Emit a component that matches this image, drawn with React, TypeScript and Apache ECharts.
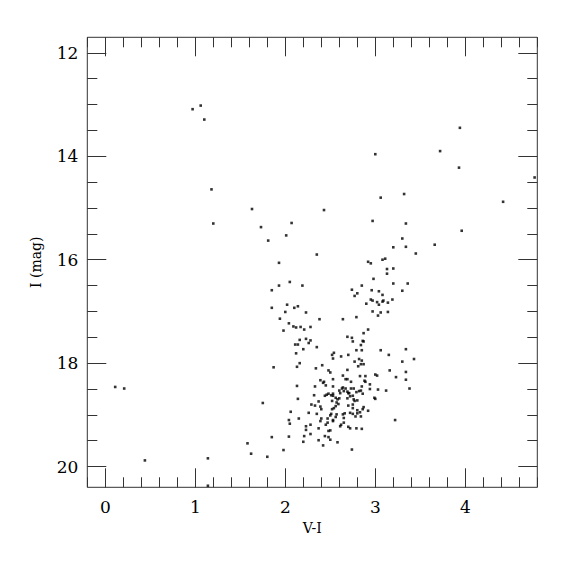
import React, { useEffect, useRef } from 'react';
import * as echarts from 'echarts';

// V-I colour vs I magnitude
const brightStars: [number, number][] = [
  [0.97, 13.09], [1.06, 13.02], [1.10, 13.29], [1.18, 14.64], [1.63, 15.02], [1.20, 15.30],
  [1.73, 15.37], [1.81, 15.63], [1.93, 16.06], [3.94, 13.45], [3.72, 13.90], [3.00, 13.96],
  [3.93, 14.22], [4.77, 14.41], [3.32, 14.73], [3.06, 14.80], [4.42, 14.88], [2.43, 15.04],
  [2.07, 15.29], [2.97, 15.25], [3.34, 15.30], [2.01, 15.53], [3.96, 15.44], [3.30, 15.59],
  [3.20, 15.76], [3.34, 15.75], [3.66, 15.71], [2.35, 15.90], [3.45, 15.88], [2.92, 16.04],
  [2.95, 16.07], [3.08, 16.00], [3.11, 15.98], [3.13, 16.18], [3.20, 16.17],
];

const upperBranch: [number, number][] = [
  [3.13, 16.27], [2.98, 16.37], [2.05, 16.43], [2.19, 16.50], [1.93, 16.50], [1.85, 16.59],
  [2.85, 16.50], [3.20, 16.46], [3.36, 16.46], [2.74, 16.58], [2.96, 16.59], [3.04, 16.61],
  [3.30, 16.60], [2.80, 16.65], [2.77, 16.70], [3.08, 16.68], [2.95, 16.77], [2.97, 16.79],
  [3.02, 16.82], [3.04, 16.87], [2.90, 16.85], [3.08, 16.81], [3.09, 16.79], [3.14, 16.83],
  [3.19, 16.77], [2.02, 16.87], [1.85, 16.93], [2.14, 16.90], [2.10, 16.93], [2.00, 17.01],
  [2.23, 17.02], [2.97, 17.00], [3.06, 17.02], [3.14, 17.01], [3.03, 17.08], [2.79, 17.11],
  [1.94, 17.14], [2.38, 17.15], [2.64, 17.15], [2.04, 17.23], [2.09, 17.29], [2.12, 17.31],
  [2.17, 17.30], [2.21, 17.35], [2.28, 17.30], [1.98, 17.37], [2.92, 17.35], [2.87, 17.42],
  [2.69, 17.49], [2.74, 17.51], [2.75, 17.58], [2.86, 17.57], [2.87, 17.58], [2.16, 17.55],
  [2.23, 17.53], [2.28, 17.56], [2.26, 17.61], [2.11, 17.64], [2.14, 17.64], [2.84, 17.65],
  [2.20, 17.73], [2.35, 17.69], [2.79, 17.75], [2.85, 17.75], [3.06, 17.75], [3.34, 17.73],
  [2.12, 17.81], [2.54, 17.80], [2.52, 17.84], [2.70, 17.84], [3.15, 17.84], [2.53, 17.91],
  [2.62, 17.87], [2.82, 17.92], [2.85, 17.95], [2.77, 17.97], [3.43, 17.92], [2.16, 18.00],
  [3.30, 17.97], [2.84, 18.02], [2.87, 18.02], [2.41, 18.04], [1.87, 18.08], [2.13, 18.07],
  [2.34, 18.10], [2.81, 18.06], [2.69, 18.13],
];

const lowerClump: [number, number][] = [
  [2.48, 18.14], [2.50, 18.18], [3.16, 18.14], [3.34, 18.17], [3.00, 18.22], [3.02, 18.24],
  [2.64, 18.24], [2.83, 18.25], [2.89, 18.25], [3.23, 18.27], [2.69, 18.31], [2.67, 18.31],
  [2.53, 18.31], [2.73, 18.36], [2.88, 18.34], [2.89, 18.36], [3.34, 18.32], [2.39, 18.33],
  [2.42, 18.38], [2.43, 18.36], [2.13, 18.44], [2.33, 18.45], [2.45, 18.43], [2.53, 18.45],
  [2.64, 18.47], [2.63, 18.49], [2.67, 18.49], [2.73, 18.49], [2.76, 18.49], [2.85, 18.45],
  [2.94, 18.41], [2.94, 18.50], [3.03, 18.51], [3.12, 18.53], [3.38, 18.49], [2.60, 18.53],
  [2.61, 18.58], [2.65, 18.54], [2.69, 18.55], [2.70, 18.58], [2.71, 18.58], [2.79, 18.56],
  [2.82, 18.54], [2.84, 18.53], [2.86, 18.59], [2.32, 18.62], [2.44, 18.63], [2.46, 18.61],
  [2.48, 18.59], [2.51, 18.62], [2.53, 18.59], [2.53, 18.63], [2.56, 18.67], [2.60, 18.68],
  [2.58, 18.70], [2.69, 18.68], [2.72, 18.64], [2.75, 18.63], [2.76, 18.70], [2.99, 18.67],
  [3.00, 18.69], [2.80, 18.72], [1.75, 18.77], [2.14, 18.69], [2.29, 18.80], [2.33, 18.82],
  [2.37, 18.74], [2.39, 18.84], [2.40, 18.89], [2.52, 18.73], [2.57, 18.76], [2.59, 18.79],
  [2.56, 18.83], [2.54, 18.87], [2.70, 18.82], [2.75, 18.80], [2.77, 18.73], [2.75, 18.87],
  [2.80, 18.91], [2.87, 18.85], [2.86, 18.89], [2.92, 18.92], [2.06, 18.94], [2.26, 18.96],
  [2.35, 18.98], [2.52, 18.89], [2.51, 18.98], [2.50, 19.01], [2.57, 18.99], [2.56, 19.04],
  [2.64, 18.99], [2.66, 18.97], [2.65, 19.06], [2.72, 18.96], [2.75, 18.98], [2.78, 19.03],
  [2.80, 18.97], [2.83, 18.95], [2.84, 19.03], [2.40, 19.07], [2.39, 19.12], [2.47, 19.07],
  [2.47, 19.15], [2.15, 19.07], [2.04, 19.10], [2.05, 19.17], [2.23, 19.22], [2.28, 19.19],
  [2.45, 19.19], [2.53, 19.10], [2.53, 19.12], [2.61, 19.22], [2.62, 19.19], [2.65, 19.15],
  [2.70, 19.23], [2.72, 19.26], [2.79, 19.26], [2.85, 19.27], [3.22, 19.10],
];

const faintStars: [number, number][] = [
  [2.23, 19.29], [2.37, 19.26], [2.48, 19.31], [2.50, 19.30], [2.28, 19.37], [2.21, 19.41],
  [2.44, 19.41], [2.48, 19.43], [2.50, 19.48], [2.37, 19.49], [2.58, 19.53], [2.04, 19.42],
  [1.85, 19.43], [2.20, 19.52], [2.42, 19.59], [1.98, 19.68], [2.74, 19.67], [1.80, 19.81],
  [0.11, 18.46], [0.21, 18.49], [1.58, 19.55], [1.62, 19.75], [1.14, 19.84], [0.44, 19.88],
  [1.14, 20.37],
];

const xRange = [-0.2, 4.8];
const yRange = [11.7, 20.4];
const xLabelRange = [0, 4];
const yLabelRange = [12, 20];

const FONT = 'DejaVu Serif';
const INK = '#333';

export default function App() {
  const ref = useRef<HTMLDivElement>(null);
  useEffect(() => {
    if (!ref.current) return;
    const chart = echarts.init(ref.current, undefined, { renderer: 'svg' });
    const L = 87.3, R = 37.7, T = 37.3, B = 87.7;
    const pxPerX = (575 - L - R) / (xRange[1] - xRange[0]);
    const pxPerY = (575 - T - B) / (yRange[1] - yRange[0]);
    const g2Left = L + (xLabelRange[0] - xRange[0]) * pxPerX;
    const g2Right = R + (xRange[1] - xLabelRange[1]) * pxPerX;
    const g3Top = T + (yLabelRange[0] - yRange[0]) * pxPerY;
    const g3Bottom = B + (yRange[1] - yLabelRange[1]) * pxPerY;
    const minorX = {
      type: 'value', gridIndex: 0, min: xRange[0], max: xRange[1], interval: 0.2,
      axisLine: { show: false }, axisLabel: { show: false }, splitLine: { show: false },
      axisTick: { inside: true, length: 10, lineStyle: { color: INK, width: 1 } },
    };
    const majorX = {
      type: 'value', gridIndex: 1, min: xLabelRange[0], max: xLabelRange[1], interval: 1,
      axisLine: { show: false }, splitLine: { show: false },
      axisTick: { inside: true, length: 19, lineStyle: { color: INK, width: 1 } },
    };
    const majorY = {
      type: 'value', gridIndex: 2, min: yLabelRange[0], max: yLabelRange[1], interval: 2, inverse: true,
      axisLine: { show: false }, splitLine: { show: false },
      axisTick: { inside: true, length: 19, lineStyle: { color: INK, width: 1 } },
      minorTick: { show: true, splitNumber: 4, length: 10, lineStyle: { color: INK, width: 1 } },
      minorSplitLine: { show: false },
    };
    const option: any = {
      animation: false,
      grid: [
        { left: L, right: R, top: T, bottom: B, show: true, borderColor: INK, borderWidth: 1, backgroundColor: 'transparent' },
        { left: g2Left, right: g2Right, top: T, bottom: B },
        { left: L, right: R, top: g3Top, bottom: g3Bottom },
      ],
      xAxis: [
        {
          ...minorX, position: 'bottom', name: 'V-I', nameLocation: 'middle', nameGap: 34,
          nameTextStyle: { fontFamily: FONT, fontSize: 14, color: '#000' },
        },
        { ...minorX, position: 'top' },
        {
          ...majorX, position: 'bottom',
          axisLabel: { show: true, margin: 11, fontFamily: FONT, fontSize: 17, color: '#000' },
        },
        { ...majorX, position: 'top', axisLabel: { show: false } },
        { type: 'value', gridIndex: 2, show: false, min: 0, max: 1 },
      ],
      yAxis: [
        {
          type: 'value', gridIndex: 0, min: yRange[0], max: yRange[1], inverse: true,
          axisLine: { show: false }, axisTick: { show: false }, axisLabel: { show: false }, splitLine: { show: false },
          name: 'I (mag)', nameLocation: 'middle', nameGap: 44, nameRotate: 90,
          nameTextStyle: { fontFamily: FONT, fontSize: 14, color: '#000' },
        },
        { type: 'value', gridIndex: 1, show: false, min: 0, max: 1 },
        {
          ...majorY, position: 'left',
          axisLabel: { show: true, margin: 9, fontFamily: FONT, fontSize: 17, color: '#000' },
        },
        { ...majorY, position: 'right', axisLabel: { show: false } },
      ],
      series: [brightStars, upperBranch, lowerClump, faintStars].map((d) => ({
        type: 'scatter',
        xAxisIndex: 0,
        yAxisIndex: 0,
        data: d,
        symbol: 'rect',
        symbolSize: 2.6,
        itemStyle: { color: '#000' },
        silent: true,
      })),
    };
    chart.setOption(option);
    return () => chart.dispose();
  }, []);
  return <div ref={ref} style={{ width: 575, height: 575, position: 'absolute', left: 0, top: 0 }} />;
}
